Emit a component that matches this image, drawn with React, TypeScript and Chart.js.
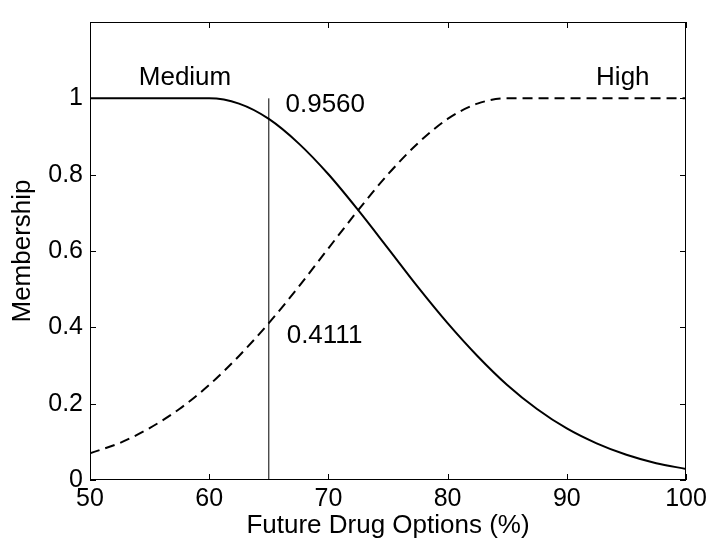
import React, { useEffect, useRef } from "react";
import { Chart, registerables } from "chart.js";

Chart.register(...registerables);

// ---- data ----
const xValues = [50, 52.5, 55, 57.5, 60, 62.5, 65, 67.5, 70, 72.5, 75, 77.5, 80, 82.5, 85, 87.5, 90, 92.5, 95, 97.5, 100];
const mediumValues = [1, 1, 1, 1, 1, 0.986, 0.946, 0.882, 0.801, 0.707, 0.607, 0.506, 0.411, 0.325, 0.249, 0.186, 0.135, 0.096, 0.066, 0.044, 0.029];
const highValues = [0.07, 0.097, 0.136, 0.186, 0.249, 0.325, 0.411, 0.506, 0.607, 0.707, 0.801, 0.882, 0.946, 0.986, 1, 1, 1, 1, 1, 1, 1];

const cutX = [65, 65];
const cutY = [0, 1];

const xTickValues = [50, 60, 70, 80, 90, 100];
const yTickValues = [0, 0.2, 0.4, 0.6, 0.8, 1];

const annotationTexts = ["Medium", "High", "0.9560", "0.4111"];
const annotationX = [57.97, 94.7, 66.4, 66.5];
const annotationY = [1.055, 1.055, 0.982, 0.377];
const annotationAlign: CanvasTextAlign[] = ["center", "center", "left", "left"];

const xTitle = "Future Drug Options (%)";
const yTitle = "Membership";

const FONT = "'Liberation Sans', Arial, Helvetica, sans-serif";

const framePlugin = {
  id: "matlabFrame",
  afterDatasetsDraw(chart: any) {
    const { ctx, chartArea: a, scales } = chart;
    ctx.save();
    // text annotations
    ctx.fillStyle = "#000";
    ctx.font = `26px ${FONT}`;
    ctx.textBaseline = "middle";
    annotationTexts.forEach((t, i) => {
      ctx.textAlign = annotationAlign[i];
      ctx.fillText(t, scales.x.getPixelForValue(annotationX[i]), scales.y.getPixelForValue(annotationY[i]));
    });
    // frame
    ctx.strokeStyle = "#000";
    ctx.lineWidth = 1;
    ctx.strokeRect(a.left + 0.5, a.top + 0.5, a.right - a.left - 1, a.bottom - a.top - 1);
    const tl = 6;
    ctx.beginPath();
    xTickValues.forEach((v) => {
      const px = Math.round(scales.x.getPixelForValue(v)) + 0.5;
      ctx.moveTo(px, a.bottom);
      ctx.lineTo(px, a.bottom - tl);
      ctx.moveTo(px, a.top);
      ctx.lineTo(px, a.top + tl);
    });
    yTickValues.forEach((v) => {
      const py = Math.round(scales.y.getPixelForValue(v)) + 0.5;
      ctx.moveTo(a.left, py);
      ctx.lineTo(a.left + tl, py);
      ctx.moveTo(a.right, py);
      ctx.lineTo(a.right - tl, py);
    });
    ctx.stroke();
    ctx.restore();
  },
};

export default function App() {
  const canvasRef = useRef<HTMLCanvasElement | null>(null);

  useEffect(() => {
    document.body.style.margin = "0";
    const canvas = canvasRef.current;
    if (!canvas) return;
    const chart = new Chart(canvas, {
      type: "line",
      data: {
        datasets: [
          {
            label: "Medium",
            data: xValues.map((x, i) => ({ x, y: mediumValues[i] })),
            borderColor: "#000",
            borderWidth: 2,
            pointRadius: 0,
            cubicInterpolationMode: "monotone",
            fill: false,
          },
          {
            label: "High",
            data: xValues.map((x, i) => ({ x, y: highValues[i] })),
            borderColor: "#000",
            borderWidth: 2,
            borderDash: [10, 6],
            pointRadius: 0,
            cubicInterpolationMode: "monotone",
            fill: false,
          },
          {
            label: "cut",
            data: cutX.map((x, i) => ({ x, y: cutY[i] })),
            borderColor: "#000",
            borderWidth: 1,
            pointRadius: 0,
            fill: false,
          },
        ],
      },
      options: {
        animation: false,
        responsive: false,
        devicePixelRatio: 1,
        layout: { padding: { top: 11, right: 26, left: 0, bottom: 0 } },
        plugins: { legend: { display: false }, tooltip: { enabled: false } },
        scales: {
          x: {
            type: "linear",
            min: 50,
            max: 100,
            grid: { display: false, drawTicks: false },
            border: { display: false },
            afterBuildTicks: (s: any) => {
              s.ticks = xTickValues.map((v) => ({ value: v }));
            },
            afterFit: (s: any) => {
              s.height = 62;
            },
            ticks: {
              color: "#000",
              padding: 4,
              maxRotation: 0,
              font: { family: FONT, size: 25 },
              callback: (v: any) => String(v),
            },
            title: {
              display: true,
              text: xTitle,
              color: "#000",
              font: { family: FONT, size: 26 },
              padding: { top: 0, bottom: 1 },
            },
          },
          y: {
            type: "linear",
            min: 0,
            max: 1.2,
            grid: { display: false, drawTicks: false },
            border: { display: false },
            afterBuildTicks: (s: any) => {
              s.ticks = yTickValues.map((v) => ({ value: v }));
            },
            afterFit: (s: any) => {
              s.width = 90;
            },
            ticks: {
              color: "#000",
              padding: 7,
              font: { family: FONT, size: 25 },
              callback: (v: any) => String(Number(Number(v).toFixed(1))),
            },
            title: {
              display: true,
              text: yTitle,
              color: "#000",
              font: { family: FONT, size: 26 },
              padding: { top: 7, bottom: 0 },
            },
          },
        },
      },
      plugins: [framePlugin],
    });
    return () => chart.destroy();
  }, []);

  return (
    <div style={{ position: "absolute", left: 0, top: 0, width: 712, height: 542, background: "#fff" }}>
      <canvas ref={canvasRef} width={712} height={542} />
    </div>
  );
}
